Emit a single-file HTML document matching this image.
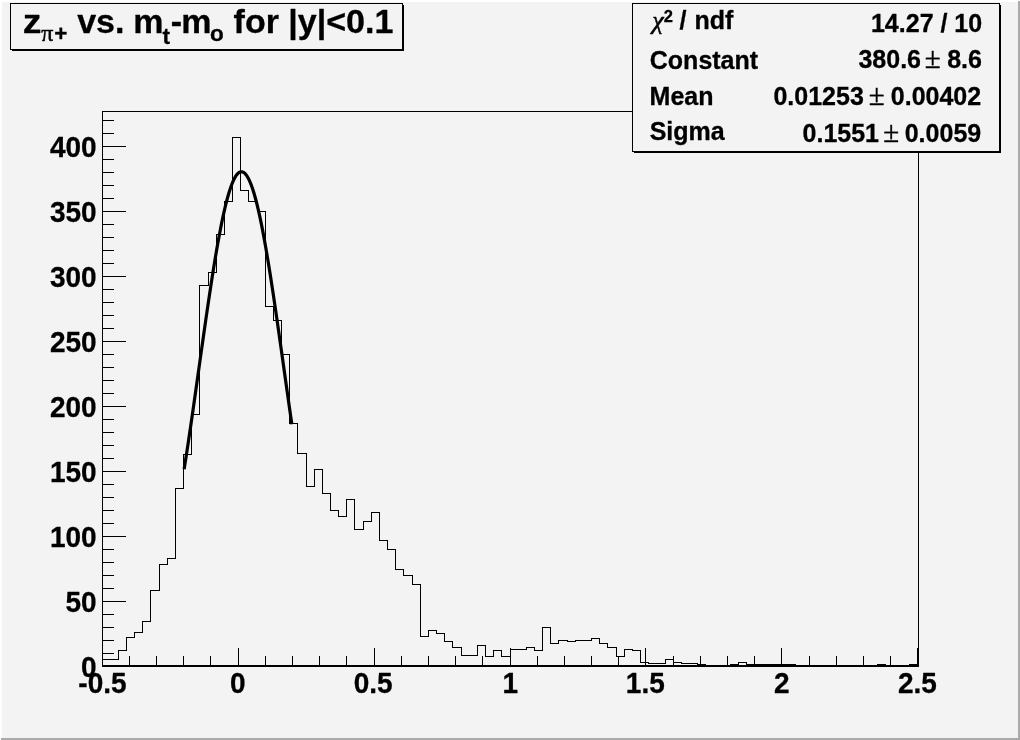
<!DOCTYPE html>
<html lang="en">
<head>
<meta charset="utf-8">
<title>z pi+ vs. mt-mo for |y|&lt;0.1</title>
<style>
html,body{margin:0;padding:0;background:#f3f3f3;}
body{width:1020px;height:740px;overflow:hidden;}
svg{display:block;}
text{font-family:"Liberation Sans",sans-serif;font-weight:bold;fill:#000;stroke:#000;stroke-width:0.3px;stroke-linejoin:round;}
.sym{font-family:"Liberation Serif","DejaVu Serif",serif;font-weight:normal;}
.pm{font-family:"Liberation Sans",sans-serif;font-weight:normal;stroke-width:0.2px;}
.st text.pmm{font-family:"Liberation Serif","DejaVu Serif",serif;font-weight:normal;font-size:29px;stroke:#000;stroke-width:0.4px;}
.ax text{font-size:29px;}
.st text{font-size:25px;}
.ti text{font-size:34px;}
.ti text.sub{font-size:22.5px;}
</style>
</head>
<body>
<svg width="1020" height="740" viewBox="0 0 1020 740">
<rect x="0" y="0" width="1020" height="740" fill="#f3f3f3"/>
<!-- canvas bevel -->
<g shape-rendering="crispEdges">
<rect x="0" y="0" width="1020" height="2" fill="#ffffff"/>
<rect x="0" y="0" width="2" height="740" fill="#ffffff"/>
<rect x="1018" y="1" width="2" height="739" fill="#aaaaaa"/>
<rect x="1" y="738" width="1019" height="2" fill="#aaaaaa"/>
</g>
<!-- frame + ticks -->
<g shape-rendering="crispEdges" fill="#000">
<rect x="102" y="111" width="817" height="1"/>
<rect x="102" y="111" width="1" height="556"/>
<rect x="918" y="111" width="1" height="556"/>
<rect x="102" y="665" width="817" height="2"/>
<rect x="102" y="648" width="1" height="18"/>
<rect x="129" y="656" width="1" height="10"/>
<rect x="156" y="656" width="1" height="10"/>
<rect x="183" y="656" width="1" height="10"/>
<rect x="210" y="656" width="1" height="10"/>
<rect x="238" y="648" width="1" height="18"/>
<rect x="265" y="656" width="1" height="10"/>
<rect x="292" y="656" width="1" height="10"/>
<rect x="319" y="656" width="1" height="10"/>
<rect x="346" y="656" width="1" height="10"/>
<rect x="374" y="648" width="1" height="18"/>
<rect x="401" y="656" width="1" height="10"/>
<rect x="428" y="656" width="1" height="10"/>
<rect x="455" y="656" width="1" height="10"/>
<rect x="482" y="656" width="1" height="10"/>
<rect x="510" y="648" width="1" height="18"/>
<rect x="537" y="656" width="1" height="10"/>
<rect x="564" y="656" width="1" height="10"/>
<rect x="591" y="656" width="1" height="10"/>
<rect x="618" y="656" width="1" height="10"/>
<rect x="645" y="648" width="1" height="18"/>
<rect x="673" y="656" width="1" height="10"/>
<rect x="700" y="656" width="1" height="10"/>
<rect x="727" y="656" width="1" height="10"/>
<rect x="754" y="656" width="1" height="10"/>
<rect x="781" y="648" width="1" height="18"/>
<rect x="809" y="656" width="1" height="10"/>
<rect x="836" y="656" width="1" height="10"/>
<rect x="863" y="656" width="1" height="10"/>
<rect x="890" y="656" width="1" height="10"/>
<rect x="917" y="648" width="1" height="18"/>
<rect x="102" y="666" width="24" height="1"/>
<rect x="102" y="653" width="12" height="1"/>
<rect x="102" y="640" width="12" height="1"/>
<rect x="102" y="627" width="12" height="1"/>
<rect x="102" y="614" width="12" height="1"/>
<rect x="102" y="601" width="24" height="1"/>
<rect x="102" y="588" width="12" height="1"/>
<rect x="102" y="575" width="12" height="1"/>
<rect x="102" y="562" width="12" height="1"/>
<rect x="102" y="549" width="12" height="1"/>
<rect x="102" y="536" width="24" height="1"/>
<rect x="102" y="523" width="12" height="1"/>
<rect x="102" y="510" width="12" height="1"/>
<rect x="102" y="497" width="12" height="1"/>
<rect x="102" y="484" width="12" height="1"/>
<rect x="102" y="471" width="24" height="1"/>
<rect x="102" y="458" width="12" height="1"/>
<rect x="102" y="445" width="12" height="1"/>
<rect x="102" y="432" width="12" height="1"/>
<rect x="102" y="419" width="12" height="1"/>
<rect x="102" y="406" width="24" height="1"/>
<rect x="102" y="393" width="12" height="1"/>
<rect x="102" y="380" width="12" height="1"/>
<rect x="102" y="367" width="12" height="1"/>
<rect x="102" y="354" width="12" height="1"/>
<rect x="102" y="341" width="24" height="1"/>
<rect x="102" y="328" width="12" height="1"/>
<rect x="102" y="315" width="12" height="1"/>
<rect x="102" y="302" width="12" height="1"/>
<rect x="102" y="289" width="12" height="1"/>
<rect x="102" y="276" width="24" height="1"/>
<rect x="102" y="263" width="12" height="1"/>
<rect x="102" y="250" width="12" height="1"/>
<rect x="102" y="237" width="12" height="1"/>
<rect x="102" y="224" width="12" height="1"/>
<rect x="102" y="211" width="24" height="1"/>
<rect x="102" y="198" width="12" height="1"/>
<rect x="102" y="185" width="12" height="1"/>
<rect x="102" y="172" width="12" height="1"/>
<rect x="102" y="159" width="12" height="1"/>
<rect x="102" y="146" width="24" height="1"/>
<rect x="102" y="133" width="12" height="1"/>
<rect x="102" y="120" width="12" height="1"/>
</g>
<!-- histogram -->
<path d="M102.5,665.5 L102.5,659.5 L110.5,659.5 L118.5,659.5 L118.5,650.5 L126.5,650.5 L126.5,637.5 L134.5,637.5 L134.5,632.5 L142.5,632.5 L142.5,621.5 L150.5,621.5 L150.5,590.5 L159.5,590.5 L159.5,564.5 L167.5,564.5 L167.5,558.5 L175.5,558.5 L175.5,488.5 L183.5,488.5 L183.5,454.5 L191.5,454.5 L191.5,414.5 L199.5,414.5 L199.5,285.5 L208.5,285.5 L208.5,272.5 L216.5,272.5 L216.5,234.5 L224.5,234.5 L224.5,201.5 L232.5,201.5 L232.5,137.5 L240.5,137.5 L240.5,190.5 L248.5,190.5 L248.5,201.5 L257.5,201.5 L257.5,211.5 L265.5,211.5 L265.5,306.5 L273.5,306.5 L273.5,320.5 L281.5,320.5 L281.5,354.5 L289.5,354.5 L289.5,423.5 L297.5,423.5 L297.5,453.5 L306.5,453.5 L306.5,486.5 L314.5,486.5 L314.5,469.5 L322.5,469.5 L322.5,493.5 L330.5,493.5 L330.5,510.5 L338.5,510.5 L338.5,516.5 L346.5,516.5 L346.5,499.5 L354.5,499.5 L354.5,529.5 L363.5,529.5 L363.5,521.5 L371.5,521.5 L371.5,512.5 L379.5,512.5 L379.5,540.5 L387.5,540.5 L387.5,549.5 L395.5,549.5 L395.5,569.5 L403.5,569.5 L403.5,575.5 L412.5,575.5 L412.5,584.5 L420.5,584.5 L420.5,636.5 L428.5,636.5 L428.5,630.5 L436.5,630.5 L436.5,633.5 L444.5,633.5 L444.5,641.5 L452.5,641.5 L452.5,647.5 L461.5,647.5 L461.5,655.5 L469.5,655.5 L477.5,655.5 L477.5,645.5 L485.5,645.5 L485.5,656.5 L493.5,656.5 L493.5,650.5 L501.5,650.5 L501.5,656.5 L510.5,656.5 L510.5,649.5 L518.5,649.5 L526.5,649.5 L526.5,647.5 L534.5,647.5 L534.5,650.5 L542.5,650.5 L542.5,627.5 L550.5,627.5 L550.5,643.5 L558.5,643.5 L558.5,640.5 L567.5,640.5 L567.5,641.5 L575.5,641.5 L575.5,640.5 L583.5,640.5 L591.5,640.5 L591.5,638.5 L599.5,638.5 L599.5,643.5 L607.5,643.5 L607.5,647.5 L616.5,647.5 L616.5,656.5 L624.5,656.5 L624.5,649.5 L632.5,649.5 L632.5,650.5 L640.5,650.5 L640.5,662.5 L648.5,662.5 L648.5,663.5 L656.5,663.5 L665.5,663.5 L665.5,659.5 L673.5,659.5 L673.5,662.5 L681.5,662.5 L681.5,663.5 L689.5,663.5 L697.5,663.5 L697.5,664.5 L705.5,664.5 L705.5,665.5 L714.5,665.5 L722.5,665.5 L730.5,665.5 L730.5,664.5 L738.5,664.5 L738.5,662.5 L746.5,662.5 L746.5,664.5 L754.5,664.5 L762.5,664.5 L771.5,664.5 L779.5,664.5 L787.5,664.5 L795.5,664.5 L795.5,665.5 L803.5,665.5 L811.5,665.5 L820.5,665.5 L828.5,665.5 L836.5,665.5 L844.5,665.5 L852.5,665.5 L860.5,665.5 L869.5,665.5 L877.5,665.5 L877.5,664.5 L885.5,664.5 L885.5,665.5 L893.5,665.5 L901.5,665.5 L909.5,665.5 L909.5,664.5 L918.5,664.5 L918.5,665.5" fill="none" stroke="#000" stroke-width="1" shape-rendering="crispEdges" stroke-linejoin="miter"/>
<!-- gaussian fit -->
<path d="M184.14,469.26 L185.23,462.32 L186.32,455.28 L187.41,448.13 L188.50,440.89 L189.58,433.57 L190.67,426.17 L191.76,418.70 L192.85,411.16 L193.94,403.57 L195.02,395.93 L196.11,388.25 L197.20,380.55 L198.29,372.83 L199.38,365.10 L200.46,357.37 L201.55,349.65 L202.64,341.96 L203.73,334.30 L204.82,326.68 L205.90,319.12 L206.99,311.63 L208.08,304.21 L209.17,296.89 L210.26,289.67 L211.34,282.56 L212.43,275.58 L213.52,268.73 L214.61,262.03 L215.70,255.50 L216.78,249.13 L217.87,242.95 L218.96,236.96 L220.05,231.18 L221.14,225.61 L222.22,220.27 L223.31,215.16 L224.40,210.30 L225.49,205.69 L226.58,201.34 L227.66,197.26 L228.75,193.46 L229.84,189.95 L230.93,186.73 L232.02,183.81 L233.10,181.20 L234.19,178.89 L235.28,176.90 L236.37,175.23 L237.46,173.88 L238.54,172.85 L239.63,172.15 L240.72,171.78 L241.81,171.74 L242.90,172.02 L243.98,172.63 L245.07,173.57 L246.16,174.84 L247.25,176.43 L248.34,178.33 L249.42,180.56 L250.51,183.09 L251.60,185.93 L252.69,189.07 L253.78,192.51 L254.86,196.23 L255.95,200.23 L257.04,204.51 L258.13,209.05 L259.22,213.85 L260.30,218.89 L261.39,224.17 L262.48,229.68 L263.57,235.41 L264.66,241.34 L265.74,247.48 L266.83,253.79 L267.92,260.29 L269.01,266.94 L270.10,273.75 L271.18,280.70 L272.27,287.77 L273.36,294.96 L274.45,302.26 L275.54,309.65 L276.62,317.13 L277.71,324.67 L278.80,332.27 L279.89,339.92 L280.98,347.61 L282.06,355.32 L283.15,363.05 L284.24,370.78 L285.33,378.51 L286.42,386.22 L287.50,393.90 L288.59,401.55 L289.68,409.15 L290.77,416.70 L291.86,424.19" fill="none" stroke="#000" stroke-width="3.2" stroke-linejoin="round" stroke-linecap="butt"/>
<!-- axis labels -->
<g class="ax">
<text transform="translate(102.5 693) scale(0.966 1)" text-anchor="middle">-0.5</text>
<text transform="translate(237.7 693) scale(0.966 1)" text-anchor="middle">0</text>
<text transform="translate(373.2 693) scale(0.966 1)" text-anchor="middle">0.5</text>
<text transform="translate(510.2 693) scale(0.966 1)" text-anchor="middle">1</text>
<text transform="translate(645.3 693) scale(0.966 1)" text-anchor="middle">1.5</text>
<text transform="translate(781.7 693) scale(0.966 1)" text-anchor="middle">2</text>
<text transform="translate(917.4 693) scale(0.966 1)" text-anchor="middle">2.5</text>
<text transform="translate(96.7 677) scale(0.966 1)" text-anchor="end">0</text>
<text transform="translate(96.7 612) scale(0.966 1)" text-anchor="end">50</text>
<text transform="translate(96.7 547) scale(0.966 1)" text-anchor="end">100</text>
<text transform="translate(96.7 482) scale(0.966 1)" text-anchor="end">150</text>
<text transform="translate(96.7 417) scale(0.966 1)" text-anchor="end">200</text>
<text transform="translate(96.7 352) scale(0.966 1)" text-anchor="end">250</text>
<text transform="translate(96.7 287) scale(0.966 1)" text-anchor="end">300</text>
<text transform="translate(96.7 222) scale(0.966 1)" text-anchor="end">350</text>
<text transform="translate(96.7 157) scale(0.966 1)" text-anchor="end">400</text>
</g>
<!-- title -->
<g shape-rendering="crispEdges">
<rect x="12" y="5" width="392" height="46" fill="#000"/>
<rect x="10.5" y="3.5" width="392" height="46" fill="#f3f3f3" stroke="#000" stroke-width="1"/>
</g>
<g class="ti">
<text transform="translate(22.7 33) scale(1.1 1)">z</text>
<text x="41.3" y="41" class="sym" style="font-size:24px;stroke:#000;stroke-width:0.5px">π</text>
<text x="54.3" y="41" class="sub">+</text>
<text x="77.2" y="33">vs.</text>
<text x="133.2" y="33">m</text>
<text x="162.5" y="44" class="sub">t</text>
<text x="170.7" y="33">-</text>
<text x="181.2" y="33">m</text>
<text x="210" y="41" class="sub">o</text>
<text x="233.6" y="33">for</text>
<text x="288.3" y="33">|y|</text>
<text x="326.2" y="33">&lt;0.1</text>
</g>
<!-- stats -->
<g shape-rendering="crispEdges">
<rect x="634" y="5" width="367" height="148" fill="#000"/>
<rect x="632.5" y="3.5" width="367" height="148" fill="#f3f3f3" stroke="#000" stroke-width="1"/>
</g>
<g class="st">
<text x="652.2" y="29" class="sym" style="font-size:26px;font-style:italic;stroke-width:0.5px">χ</text>
<text x="663.8" y="22" style="font-size:16.5px">2</text>
<text x="679.5" y="29">/</text>
<text x="694.5" y="29">ndf</text>
<text x="982.2" y="32" text-anchor="end">14.27 / 10</text>
<text x="649.8" y="69">Constant</text>
<text x="921" y="68" text-anchor="end">380.6</text>
<text x="932.8" y="68" text-anchor="middle" class="pmm">±</text>
<text x="981.9" y="68" text-anchor="end">8.6</text>
<text x="649.6" y="105">Mean</text>
<text x="863.8" y="105" text-anchor="end">0.01253</text>
<text x="876.65" y="105" text-anchor="middle" class="pmm">±</text>
<text x="981.2" y="105" text-anchor="end">0.00402</text>
<text x="649.7" y="140">Sigma</text>
<text x="879" y="142" text-anchor="end">0.1551</text>
<text x="891.1" y="142" text-anchor="middle" class="pmm">±</text>
<text x="981.2" y="142" text-anchor="end">0.0059</text>
</g>
</svg>
</body>
</html>
